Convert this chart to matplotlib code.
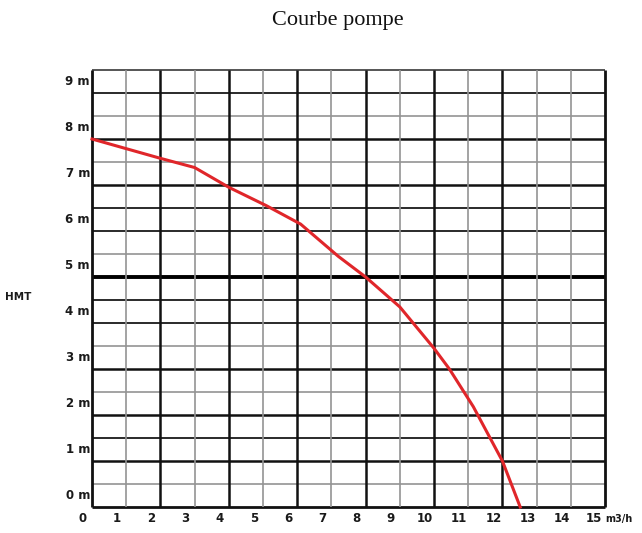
import matplotlib
matplotlib.use("Agg")
import matplotlib.pyplot as plt

# ---- data (grid units: x = flow m3/h grid column, y = half-metre bands / 2) ----
flow = [0, 2.0, 3.0, 4.0, 5.1, 6.1, 7.2, 8.0, 9.0, 10.0, 10.45, 11.15, 12.0, 12.52]
head = [8.0, 7.58, 7.38, 6.95, 6.55, 6.15, 5.45, 5.0, 4.35, 3.45, 3.0, 2.18, 1.0, 0.0]
x_tick_labels = [str(k) for k in range(16)]
y_tick_labels = [f"{k} m" for k in range(10)]
title = "Courbe pompe"
x_unit = "m3/h"
y_name = "HMT"

# ---- styles of grid lines ----
h_styles = ["border", "gray", "thick", "dark", "thick", "gray", "thick", "gray", "dark", "dark",
            "vthick", "gray", "dark", "dark", "thick", "gray", "thick", "gray", "dark", "top"]
v_styles = ["border"] + ["gray" if k % 2 else "thick" for k in range(1, 14)] + ["gray", "border"]
style_map = {
    "gray": dict(color="#939393", lw=1.2),
    "dark": dict(color="#2a2a2a", lw=1.4),
    "thick": dict(color="#111111", lw=1.8),
    "vthick": dict(color="#000000", lw=2.8),
    "border": dict(color="#111111", lw=2.0),
    "top": dict(color="#555555", lw=1.4),
}

W, H = 642, 533
fig = plt.figure(figsize=(W / 100, H / 100), dpi=100)
ax = fig.add_axes([92 / W, 1 - 507 / H, (605 - 92) / W, (507 - 70) / H])
ax.set_xlim(0, 15)
ax.set_ylim(0, 9.5)
for s in ax.spines.values():
    s.set_visible(False)
ax.set_xticks([])
ax.set_yticks([])

for i, st in enumerate(h_styles):
    ax.axhline(i * 0.5, clip_on=False, zorder=1, solid_capstyle="butt", **style_map[st])
for i, st in enumerate(v_styles):
    ax.axvline(i, clip_on=False, zorder=1, solid_capstyle="butt", **style_map[st])

ax.plot(flow, head, color="#e0262a", lw=2.2, zorder=3, clip_on=False)

font = dict(family="DejaVu Sans", weight="bold", size=8.5, color="#1a1a1a")
for k, lab in enumerate(x_tick_labels):
    dx = -6.5 if k < 15 else -8.0
    ax.annotate(lab, xy=(k, 0), xycoords=("data", "axes fraction"), xytext=(dx, -8.5),
                textcoords="offset points", ha="center", va="center", **font)
ax.annotate(x_unit, xy=(15, 0), xycoords=("data", "axes fraction"), xytext=(0.0, -8.5),
            textcoords="offset points", ha="left", va="center",
            family="DejaVu Sans", weight="bold", size=7, color="#1a1a1a")
for k, lab in enumerate(y_tick_labels):
    ax.annotate(lab, xy=(0, k + 0.25), xycoords=("axes fraction", "data"), xytext=(-1.5, 0),
                textcoords="offset points", ha="right", va="center", **font)

fig.text(5 / W, 1 - 297 / H, y_name, ha="left", va="center",
         family="DejaVu Sans", weight="bold", size=7.5, color="#1a1a1a")
fig.text(338 / W, 1 - 20 / H, title, ha="center", va="center",
         family="Liberation Serif", size=16, color="#111111")

fig.savefig("out.png", dpi=100, facecolor="white")
